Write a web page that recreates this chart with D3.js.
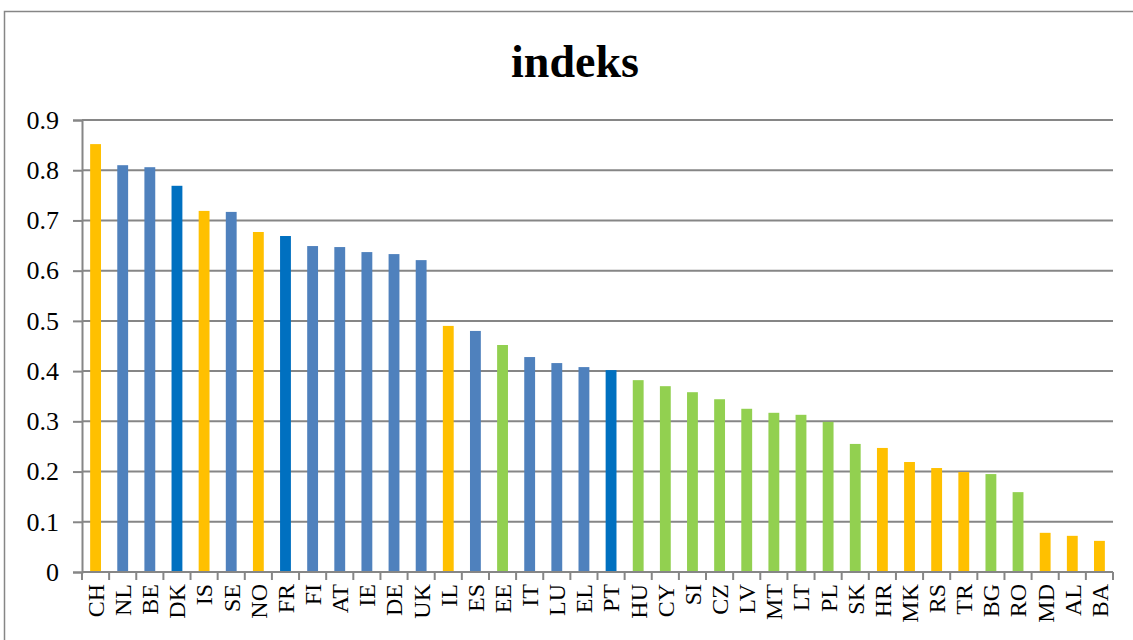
<!DOCTYPE html>
<html>
<head>
<meta charset="utf-8">
<script src="https://cdn.jsdelivr.net/npm/d3@7"></script>
<style>
  body { margin: 0; background: #fff; }
  svg text { font-family: "Liberation Serif", "Times New Roman", serif; fill: #000; }
</style>
</head>
<body>
<svg id="chart" width="1133" height="640"></svg>
<script>
// countries, sorted by index value
var countries = ['CH', 'NL', 'BE', 'DK', 'IS', 'SE', 'NO', 'FR', 'FI', 'AT', 'IE', 'DE', 'UK',
    'IL', 'ES', 'EE', 'IT', 'LU', 'EL', 'PT', 'HU', 'CY', 'SI', 'CZ', 'LV', 'MT', 'LT', 'PL',
    'SK', 'HR', 'MK', 'RS', 'TR', 'BG', 'RO', 'MD', 'AL', 'BA'];

var indeks = [0.852, 0.810, 0.806, 0.769, 0.719, 0.717, 0.677, 0.669, 0.649, 0.647, 0.637, 0.633, 0.621,
    0.490, 0.480, 0.452, 0.428, 0.416, 0.408, 0.402, 0.382, 0.370, 0.358, 0.344, 0.325, 0.317, 0.313, 0.299,
    0.255, 0.247, 0.219, 0.207, 0.199, 0.195, 0.159, 0.078, 0.072, 0.062];

// colour group of each bar: y = yellow, b = blue, d = dark blue, g = green
var groups = ['y', 'b', 'b', 'd', 'y', 'b', 'y', 'd', 'b', 'b', 'b', 'b', 'b',
    'y', 'b', 'g', 'b', 'b', 'b', 'd', 'g', 'g', 'g', 'g', 'g', 'g', 'g', 'g',
    'g', 'y', 'y', 'y', 'y', 'g', 'g', 'y', 'y', 'y'];

var yTicks = [0, 0.1, 0.2, 0.3, 0.4, 0.5, 0.6, 0.7, 0.8, 0.9];

var colors = { y: '#FFC000', b: '#4F81BD', d: '#0070C0', g: '#92D050' };

var margin = { left: 82, right: 20, top: 120, bottom: 68 };
var width = 1133, height = 640;
var serif = '"Liberation Serif", "Times New Roman", serif';

var svg = d3.select('#chart');

// outer chart border
svg.append('rect')
    .attr('x', 4.5)
    .attr('y', 11.5)
    .attr('width', width + 10)
    .attr('height', height + 10)
    .attr('fill', 'none')
    .attr('stroke', '#868686')
    .attr('stroke-width', 1.5);

svg.append('text')
    .attr('x', 575)
    .attr('y', 77)
    .attr('text-anchor', 'middle')
    .style('font-size', '46px')
    .style('font-weight', 'bold')
    .text('indeks');

var x = d3.scaleBand()
    .domain(countries)
    .range([margin.left, width - margin.right])
    .paddingInner(0.6)
    .paddingOuter(0.3);

var y = d3.scaleLinear()
    .domain([0, 0.9])
    .range([height - margin.bottom, margin.top]);

// gridlines
svg.append('g')
    .selectAll('line')
    .data(yTicks)
    .join('line')
    .attr('x1', margin.left)
    .attr('x2', width - margin.right)
    .attr('y1', function(d) { return y(d); })
    .attr('y2', function(d) { return y(d); })
    .attr('stroke', '#868686')
    .attr('stroke-width', 2);

// y axis
var yAxis = svg.append('g')
    .attr('transform', 'translate(' + margin.left + ',0)')
    .call(d3.axisLeft(y).tickValues(yTicks).tickFormat(d3.format('')).tickSize(9).tickPadding(14));
yAxis.attr('font-family', null).attr('font-size', null);
yAxis.select('.domain').attr('stroke', '#868686').attr('stroke-width', 2);
yAxis.selectAll('.tick line').attr('stroke', '#868686').attr('stroke-width', 2);
yAxis.selectAll('text')
    .style('font-family', serif)
    .style('font-size', '26px');

// bars
svg.append('g')
    .selectAll('rect')
    .data(countries)
    .join('rect')
    .attr('x', function(d) { return x(d); })
    .attr('width', x.bandwidth())
    .attr('y', function(d, i) { return y(indeks[i]); })
    .attr('height', function(d, i) { return y(0) - y(indeks[i]); })
    .attr('fill', function(d, i) { return colors[groups[i]]; });

// x axis with tick marks between categories
var plotW = width - margin.right - margin.left;
var xAxis = svg.append('g')
    .attr('transform', 'translate(0,' + y(0) + ')');
xAxis.append('line')
    .attr('x1', margin.left)
    .attr('x2', width - margin.right)
    .attr('stroke', '#868686')
    .attr('stroke-width', 2);
xAxis.selectAll('line.tk')
    .data(d3.range(countries.length + 1))
    .join('line')
    .attr('class', 'tk')
    .attr('x1', function(i) { return margin.left + i * plotW / countries.length; })
    .attr('x2', function(i) { return margin.left + i * plotW / countries.length; })
    .attr('y1', 0)
    .attr('y2', 8)
    .attr('stroke', '#868686')
    .attr('stroke-width', 2);
xAxis.selectAll('text')
    .data(countries)
    .join('text')
    .attr('transform', function(d) {
        return 'translate(' + (x(d) + x.bandwidth() / 2) + ',12) rotate(-90)';
    })
    .attr('text-anchor', 'end')
    .attr('dy', '0.35em')
    .style('font-family', serif)
    .style('font-size', '24px')
    .text(function(d) { return d; });
</script>
</body>
</html>
